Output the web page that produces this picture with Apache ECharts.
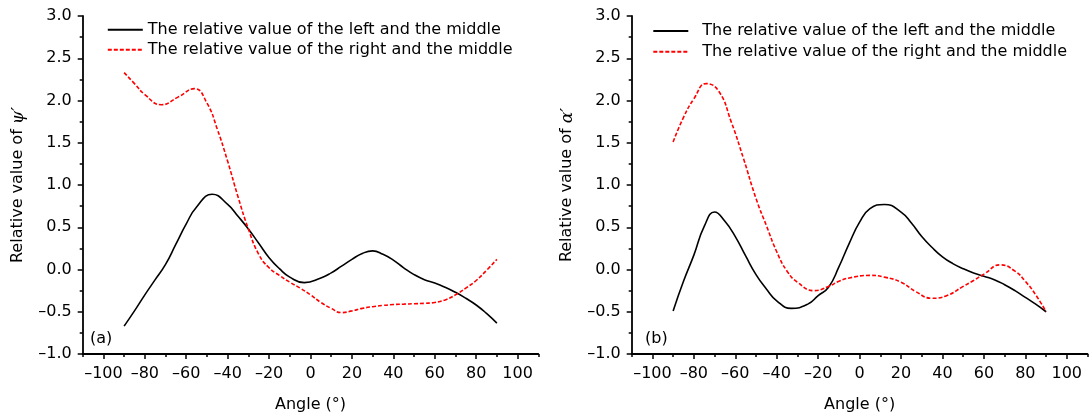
<!DOCTYPE html>
<html>
<head>
<meta charset="utf-8">
<script src="https://cdn.jsdelivr.net/npm/echarts@6/dist/echarts.min.js"></script>
<style>
html,body{margin:0;padding:0;background:#fff;}
#c{width:1089px;height:418px;}
</style>
</head>
<body>
<div id="c"></div>
<script>
// ---- data ----
const xMajor = [-100, -80, -60, -40, -20, 0, 20, 40, 60, 80, 100];
const xMinor = [-110, -90, -70, -50, -30, -10, 10, 30, 50, 70, 90, 110];
const yTicks = [-1.0, -0.5, 0.0, 0.5, 1.0, 1.5, 2.0, 2.5, 3.0];

// (a) relative value of psi'
const psiLeftAngles  = [-90, -85, -80, -75, -70, -65, -60, -55, -47.5, -40, -35, -30, -25, -20, -15, -10, -3,
                        5, 10, 15, 20, 25, 30, 35, 40, 45, 50, 55, 60, 65, 70, 75, 80, 85, 90];
const psiLeftValues  = [-0.67, -0.49, -0.30, -0.12, 0.06, 0.30, 0.54, 0.74, 0.89, 0.77, 0.63, 0.48, 0.31, 0.14, 0.01, -0.09, -0.155,
                        -0.10, -0.04, 0.04, 0.12, 0.19, 0.22, 0.18, 0.11, 0.02, -0.06, -0.12, -0.16, -0.21, -0.27, -0.34, -0.42, -0.52, -0.635];
const psiRightAngles = [-90, -85, -80, -72, -64, -56, -50, -45, -40, -35, -30, -25, -20, -15, -10, -5, 0,
                        5, 10, 15, 20, 25, 30, 35, 40, 45, 50, 55, 60, 65, 70, 75, 80, 85, 90];
const psiRightValues = [2.33, 2.20, 2.07, 1.95, 2.04, 2.14, 1.97, 1.66, 1.28, 0.86, 0.48, 0.18, 0.02, -0.07, -0.15, -0.22, -0.30,
                        -0.39, -0.46, -0.51, -0.49, -0.46, -0.44, -0.425, -0.415, -0.41, -0.405, -0.40, -0.39, -0.36, -0.30, -0.22, -0.13, -0.01, 0.12];

// (b) relative value of alpha'
const alphaLeftAngles  = [-90, -85, -80, -75, -70, -65, -60, -55, -50, -45, -40, -33, -25, -20, -15, -10, -5, 0,
                          5, 12, 20, 25, 30, 35, 40, 45, 50, 55, 60, 65, 70, 75, 80, 85, 90];
const alphaLeftValues  = [-0.49, -0.14, 0.17, 0.51, 0.68, 0.57, 0.39, 0.16, -0.06, -0.23, -0.37, -0.46, -0.41, -0.31, -0.21, 0.03, 0.31, 0.56,
                          0.72, 0.77, 0.68, 0.55, 0.39, 0.26, 0.15, 0.07, 0.01, -0.04, -0.08, -0.12, -0.18, -0.25, -0.33, -0.41, -0.50];
const alphaRightAngles = [-90, -85, -80, -74, -68, -62, -56, -50, -45, -40, -35, -30, -22, -15, -10, -5,
                          5, 12, 20, 27, 35, 42, 50, 55, 60, 68, 75, 80, 85, 90];
const alphaRightValues = [1.51, 1.80, 2.02, 2.20, 2.11, 1.75, 1.31, 0.84, 0.52, 0.21, -0.02, -0.15, -0.25, -0.20, -0.14, -0.10,
                          -0.07, -0.09, -0.15, -0.26, -0.34, -0.31, -0.20, -0.13, -0.055, 0.055, -0.02, -0.14, -0.30, -0.50];

const legendNames = ['The relative value of the left and the middle', 'The relative value of the right and the middle'];
const panelTags = ['(a)', '(b)'];

// ---- helpers ----
const FONT = 'DejaVu Sans';
const pairs = (xs, ys) => xs.map((x, i) => [x, ys[i]]);
const neg = s => s.replace('-', '\u2013');
const fmtX = v => neg(String(v));
const fmtY = v => neg(v.toFixed(1));
const AXW = 1.8;

function xAxes(gi) {
  return [
    {
      type: 'value', gridIndex: gi, position: 'bottom', min: -110, max: 110,
      axisLine: { show: true, onZero: false, lineStyle: { color: '#000', width: AXW } },
      axisTick: { show: true, customValues: xMajor, length: 5, lineStyle: { color: '#000', width: 1.5 } },
      axisLabel: { customValues: xMajor, formatter: fmtX, color: '#000', fontSize: 16, fontFamily: FONT, margin: 12 },
      splitLine: { show: false },
      name: 'Angle (\u00b0)', nameLocation: 'middle', nameGap: 43,
      nameTextStyle: { color: '#000', fontSize: 16, fontFamily: FONT }
    },
    {
      type: 'value', gridIndex: gi, position: 'bottom', min: -110, max: 110,
      axisLine: { show: false, onZero: false },
      axisTick: { show: true, customValues: xMinor, length: 3, lineStyle: { color: '#000', width: 1.5 } },
      axisLabel: { show: false },
      splitLine: { show: false }
    }
  ];
}

function yAxis(gi, sym) {
  return {
    type: 'value', gridIndex: gi, min: -1, max: 3, interval: 0.5,
    axisLine: { show: true, onZero: false, lineStyle: { color: '#000', width: AXW } },
    axisTick: { show: true, length: 5, lineStyle: { color: '#000', width: 1.5 } },
    minorTick: { show: true, splitNumber: 2, length: 3, lineStyle: { color: '#000', width: 1.5 } },
    axisLabel: { customValues: yTicks, formatter: fmtY, color: '#000', fontSize: 16, fontFamily: FONT, margin: 11 },
    splitLine: { show: false },
    name: '{n|Relative value of }{g|' + sym + '\u2032}',
    nameLocation: 'middle', nameGap: 56,
    nameTextStyle: {
      color: '#000', fontSize: 16, fontFamily: FONT,
      rich: {
        n: { color: '#000', fontSize: 16, fontFamily: FONT },
        g: { color: '#000', fontSize: 17, fontFamily: 'DejaVu Serif', fontStyle: 'italic' }
      }
    }
  };
}

function lineSeries(name, xi, yi, data, color, dashed) {
  return {
    name: name, type: 'line', xAxisIndex: xi, yAxisIndex: yi,
    data: data, smooth: 0.5, symbol: 'none', animation: false,
    lineStyle: { color: color, width: 1.6, type: dashed ? [4, 2] : 'solid' },
    itemStyle: { color: color }
  };
}

// second panel series get a trailing space so each legend lists only its own panel
const nameB = legendNames.map(n => n + ' ');

const chart = echarts.init(document.getElementById('c'), null, { renderer: 'canvas' });
const xa = xAxes(0), xb = xAxes(1);
chart.setOption({
  backgroundColor: '#fff',
  animation: false,
  grid: [
    { left: 82.7, top: 16, width: 455.6, height: 340 },
    { left: 631.7, top: 16, width: 455.8, height: 340 }
  ],
  xAxis: [xa[0], xa[1], xb[0], xb[1]],
  yAxis: [yAxis(0, '\u03c8'), yAxis(1, '\u03b1')],
  legend: [
    {
      show: true, orient: 'vertical', left: 106.8, top: 21.7, padding: 0,
      itemWidth: 35, itemHeight: 14, itemGap: 4, selectedMode: false,
      itemStyle: { opacity: 0 },
      data: legendNames,
      textStyle: { color: '#000', fontSize: 16, fontFamily: FONT }
    },
    {
      show: true, orient: 'vertical', left: 652.3, top: 23, padding: 0,
      itemWidth: 35, itemHeight: 14, itemGap: 4.7, selectedMode: false,
      itemStyle: { opacity: 0 },
      data: nameB,
      formatter: n => n.trim(),
      textStyle: { color: '#000', fontSize: 16, fontFamily: FONT, padding: [0, 0, 0, 9] }
    }
  ],
  graphic: [
    { type: 'text', left: 90, top: 331, style: { text: panelTags[0], fill: '#000', font: '16px "DejaVu Sans"' } },
    { type: 'text', left: 645, top: 331, style: { text: panelTags[1], fill: '#000', font: '16px "DejaVu Sans"' } }
  ],
  series: [
    lineSeries(legendNames[0], 0, 0, pairs(psiLeftAngles, psiLeftValues), '#000', false),
    lineSeries(legendNames[1], 0, 0, pairs(psiRightAngles, psiRightValues), '#ff0000', true),
    lineSeries(nameB[0], 2, 1, pairs(alphaLeftAngles, alphaLeftValues), '#000', false),
    lineSeries(nameB[1], 2, 1, pairs(alphaRightAngles, alphaRightValues), '#ff0000', true)
  ]
});
</script>
</body>
</html>
